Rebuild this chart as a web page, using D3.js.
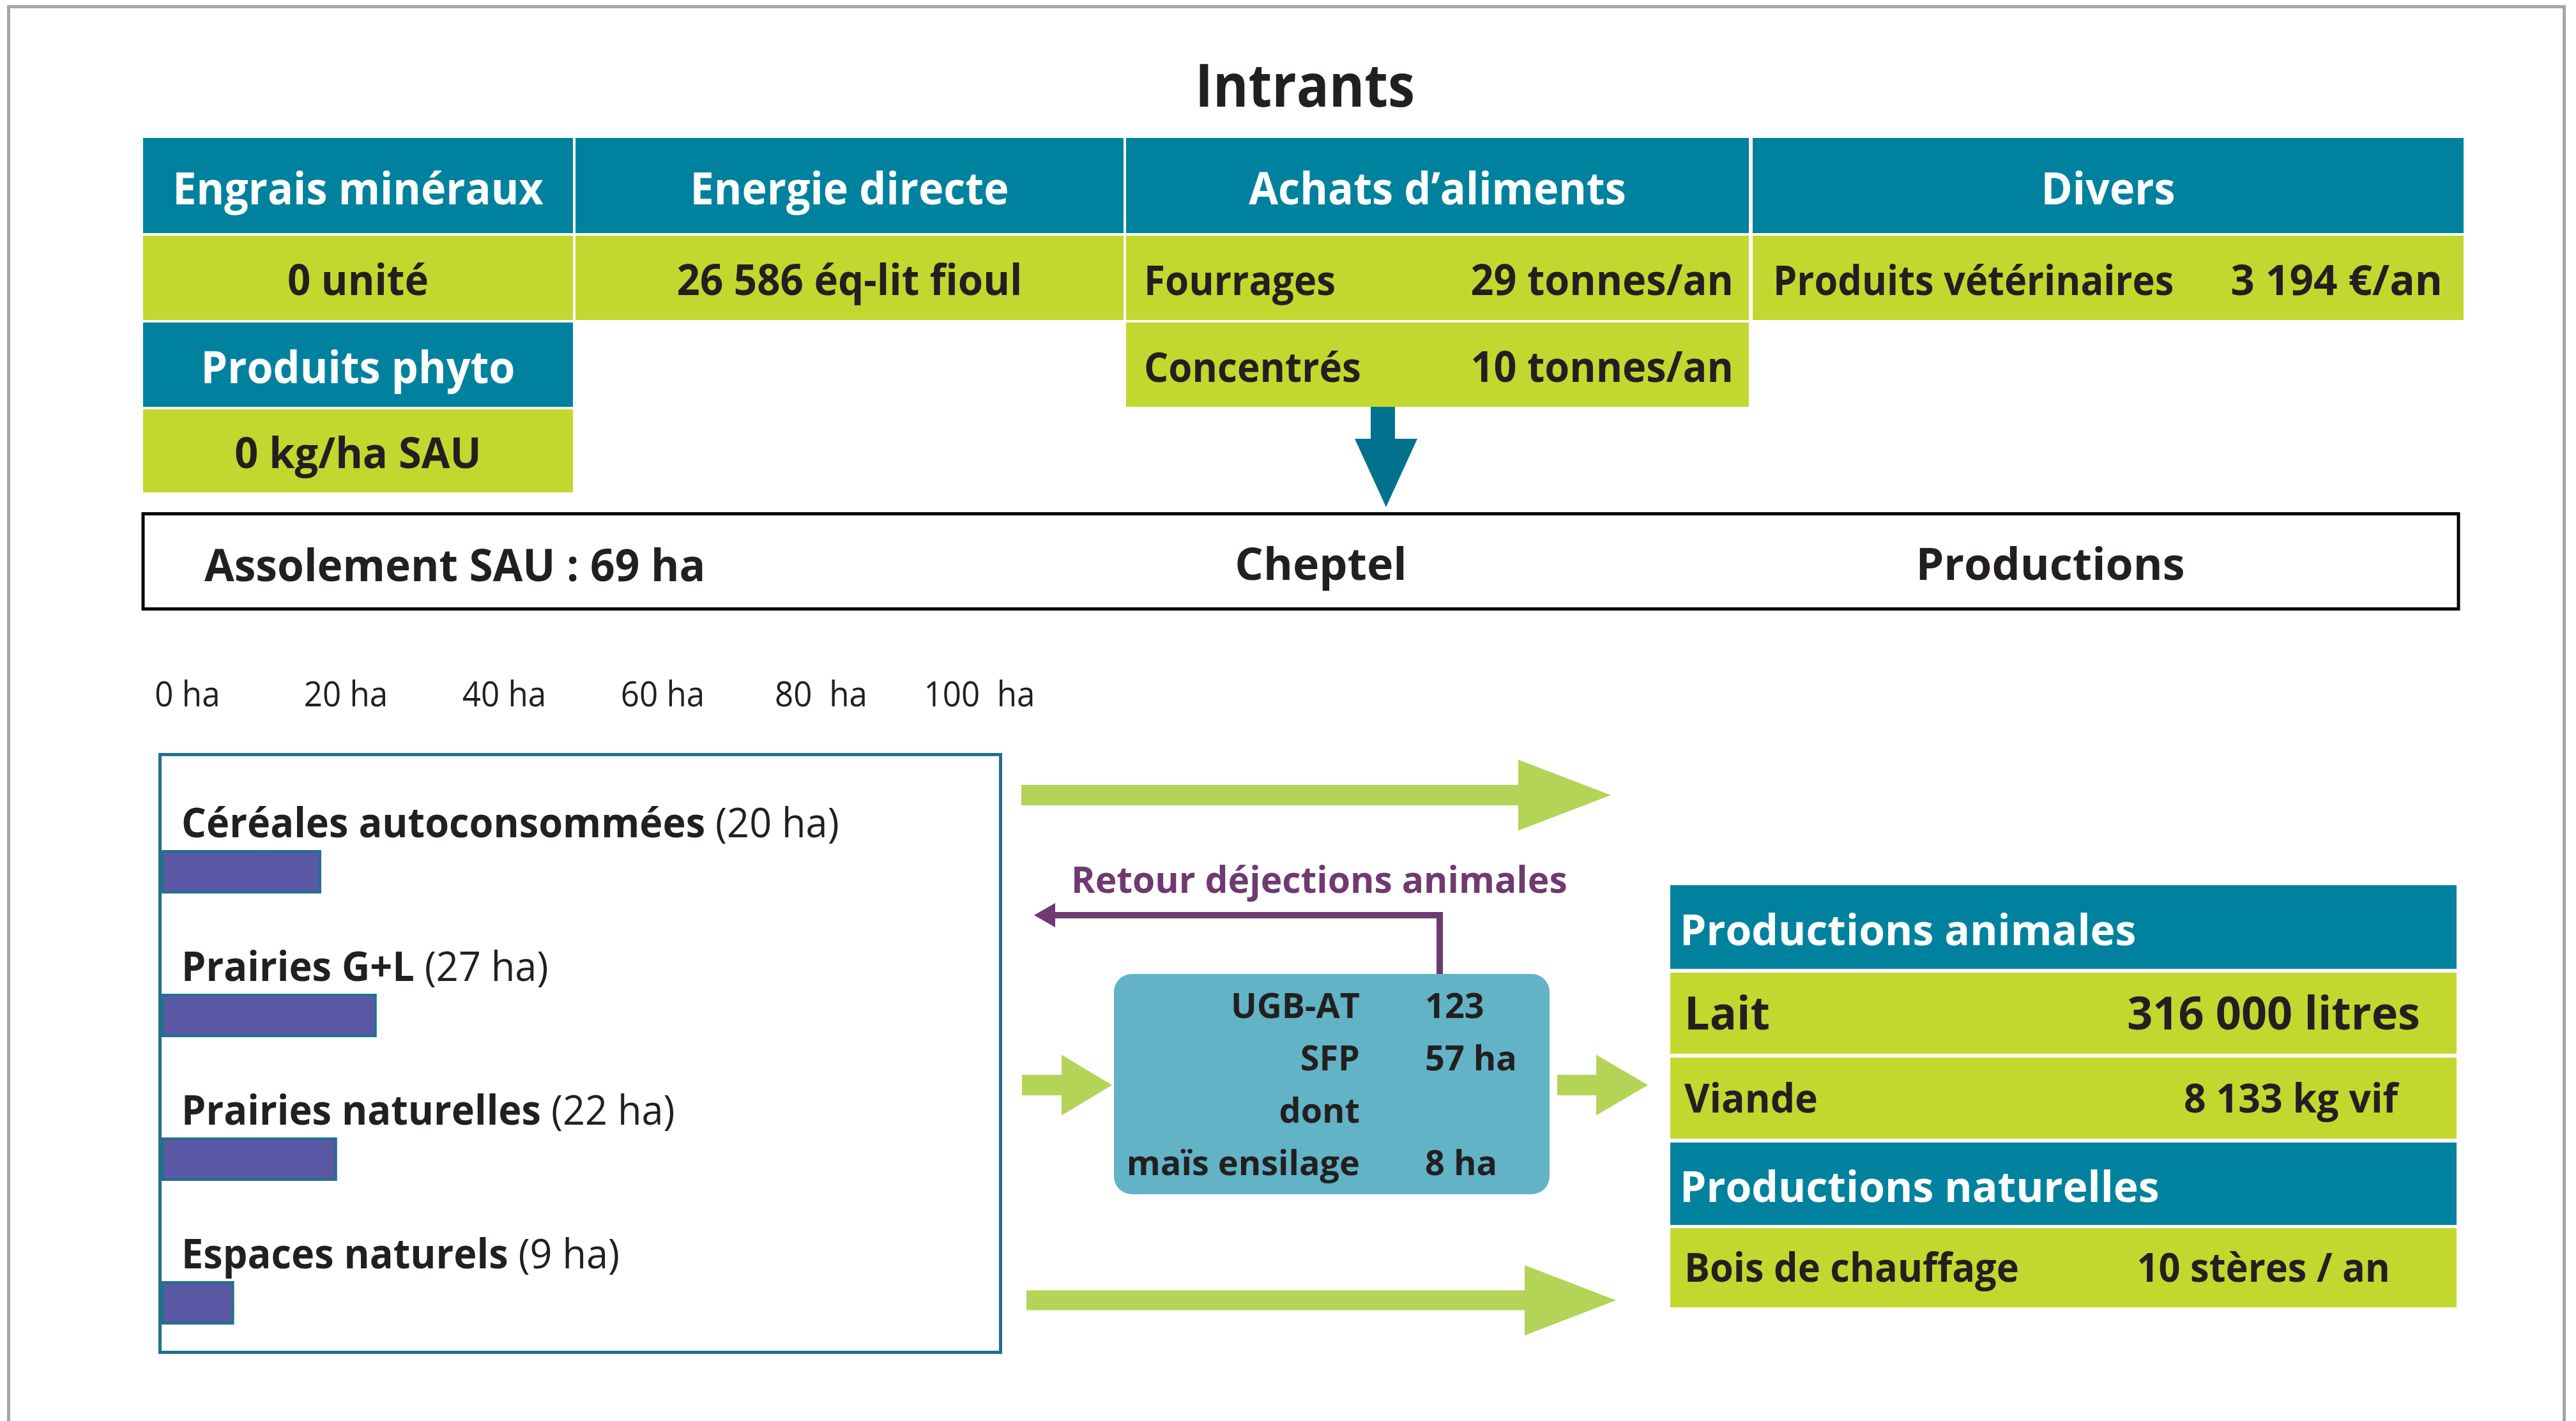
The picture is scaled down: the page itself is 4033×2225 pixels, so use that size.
<!DOCTYPE html>
<html>
<head>
<meta charset="utf-8">
<script src="https://cdn.jsdelivr.net/npm/d3@7"></script>
<style>
  html, body { margin: 0; padding: 0; background: #fff; }
  svg { display: block; }
  text { font-family: "Open Sans", "Noto Sans", sans-serif; }
</style>
</head>
<body>
<div id="chart"></div>
<script>
// --- data -------------------------------------------------------------
const inputCategories = ["Engrais minéraux", "Energie directe", "Achats d’aliments", "Divers"]
const inputAmounts = ["0 unité", "26 586 éq-lit fioul"]
const feedItems = ["Fourrages", "Concentrés"]
const feedAmounts = ["29 tonnes/an", "10 tonnes/an"]
const miscItems = ["Produits vétérinaires"]
const miscAmounts = ["3 194 €/an"]
const phytoLabel = "Produits phyto"
const phytoAmount = "0 kg/ha SAU"

const sauTotal = 69
const cropNames = ["Céréales autoconsommées", "Prairies G+L", "Prairies naturelles", "Espaces naturels"]
const cropAreas = [20, 27, 22, 9]
const axisTicks = [0, 20, 40, 60, 80, 100]
const tickLabels = ["0 ha", "20 ha", "40 ha", "60 ha", "80  ha", "100  ha"]

const herdLabels = ["UGB-AT", "SFP", "dont", "maïs ensilage"]
const herdValues = ["123", "57 ha", "", "8 ha"]

const outputHeads = ["Productions animales", "Productions naturelles"]
const animalProducts = ["Lait", "Viande"]
const animalAmounts = ["316 000 litres", "8 133 kg vif"]
const naturalProducts = ["Bois de chauffage"]
const naturalAmounts = ["10 stères / an"]

// --- look -------------------------------------------------------------
const width = 4033
const height = 2225
const teal = "#00829e"
const green = "#c2d82e"
const arrowGreen = "#b3d456"
const navy = "#22708c"
const barFill = "#5a58a5"
const herdFill = "#62b3c6"
const purple = "#6e3a70"
const dark = "#231f20"
const SX = 0.95   // light horizontal squeeze, the original uses a condensed face

const svg = d3.select("#chart").append("svg")
    .attr("width", width)
    .attr("height", height)
    .attr("viewBox", `0 0 ${width} ${height}`)

function label(g, x, y, str, o = {}) {
    return g.append("text")
        .attr("transform", `translate(${x},${y}) scale(${o.sx ?? SX},1)`)
        .attr("text-anchor", o.anchor || "start")
        .attr("font-size", o.size || 66)
        .attr("font-weight", o.weight || 700)
        .attr("fill", o.fill || dark)
        .text(str)
}

function rightArrow(x0, tip, yc, shaft, head, headLen) {
    const p = d3.path()
    const xh = tip - headLen
    p.moveTo(x0, yc - shaft / 2)
    p.lineTo(xh, yc - shaft / 2)
    p.lineTo(xh, yc - head / 2)
    p.lineTo(tip, yc)
    p.lineTo(xh, yc + head / 2)
    p.lineTo(xh, yc + shaft / 2)
    p.lineTo(x0, yc + shaft / 2)
    p.closePath()
    return p.toString()
}

// frame
svg.append("rect")
    .attr("x", 13.5).attr("y", 10.5)
    .attr("width", 4001).attr("height", 2400)
    .attr("fill", "none").attr("stroke", "#a6a6aa").attr("stroke-width", 5)

// --- intrants ---------------------------------------------------------
const intr = svg.append("g")
label(intr, 2043, 167, "Intrants", { anchor: "middle", size: 94, sx: 0.9 })

const colX = [[224, 897], [901, 1759], [1763, 2738], [2744, 3857]]
const rowY = [[216, 365], [369, 501], [505, 637], [641, 771]]

function cell(col, row, fill) {
    const [x0, x1] = colX[col], [y0, y1] = rowY[row]
    intr.append("rect").attr("x", x0).attr("y", y0)
        .attr("width", x1 - x0).attr("height", y1 - y0).attr("fill", fill)
    return { x0, x1, cx: (x0 + x1) / 2, cy: (y0 + y1) / 2 }
}

inputCategories.forEach((name, i) => {
    const c = cell(i, 0, teal)
    label(intr, c.cx, c.cy + 29, name, { anchor: "middle", size: 70, fill: "#fff" })
})
inputAmounts.forEach((v, i) => {
    const c = cell(i, 1, green)
    label(intr, c.cx, c.cy + 27, v, { anchor: "middle", size: 67 })
})
feedItems.forEach((name, i) => {
    const c = cell(2, i + 1, green)
    label(intr, c.x0 + 28, c.cy + 27, name, { size: 64, sx: 0.94 })
    label(intr, c.x1 - 24, c.cy + 27, feedAmounts[i], { anchor: "end", size: 67, sx: 0.94 })
})
miscItems.forEach((name, i) => {
    const c = cell(3, i + 1, green)
    label(intr, c.x0 + 32, c.cy + 27, name, { size: 64, sx: 0.93 })
    label(intr, c.x1 - 33, c.cy + 27, miscAmounts[i], { anchor: "end", size: 67, sx: 0.98 })
})
{
    const h = cell(0, 2, teal)
    label(intr, h.cx, h.cy + 29, phytoLabel, { anchor: "middle", size: 70, fill: "#fff" })
    const v = cell(0, 3, green)
    label(intr, v.cx, v.cy + 27, phytoAmount, { anchor: "middle", size: 67, sx: 0.97 })
}

// purchased feed going down into the herd
intr.append("rect").attr("x", 2146).attr("y", 637).attr("width", 38).attr("height", 52).attr("fill", "#00728e")
intr.append("path").attr("d", "M2121,687L2219,687L2170,794Z").attr("fill", "#00728e")

// --- band ------------------------------------------------------------
const band = svg.append("g")
band.append("rect").attr("x", 224).attr("y", 804.5).attr("width", 3625).attr("height", 149)
    .attr("fill", "none").attr("stroke", "#000").attr("stroke-width", 5)
label(band, 320, 910, `Assolement SAU : ${sauTotal} ha`, { size: 70, sx: 0.967 })
label(band, 2068, 908, "Cheptel", { anchor: "middle", size: 70, sx: 1 })
label(band, 3210, 908, "Productions", { anchor: "middle", size: 70, sx: 1 })

// --- crop rotation bars --------------------------------------------------
const x = d3.scaleLinear().domain([0, 100]).range([253, 1493])
const y = d3.scalePoint().domain(cropNames).range([1333, 2008])
const barH = 64

const crops = svg.append("g")
crops.append("rect").attr("x", 250.5).attr("y", 1181.5).attr("width", 1316).attr("height", 936)
    .attr("fill", "none").attr("stroke", navy).attr("stroke-width", 5)

const axis = crops.append("g")
    .attr("transform", "translate(40,1106)")
    .call(d3.axisTop(x).tickValues(axisTicks).tickSize(0).tickPadding(0).tickFormat((d, i) => tickLabels[i]))
axis.select(".domain").remove()
axis.attr("font-family", null)
axis.selectAll("text")
    .attr("font-size", 55)
    .attr("fill", dark)
    .attr("dy", 0)
    .style("white-space", "pre")
    .attr("transform", "scale(0.93,1)")

crops.selectAll("rect.bar")
    .data(cropNames)
    .join("rect")
    .attr("class", "bar")
    .attr("x", x(0) + 2)
    .attr("y", d => y(d))
    .attr("width", (d, i) => x(cropAreas[i]) - x(0) - 2)
    .attr("height", barH)
    .attr("fill", barFill)
    .attr("stroke", navy)
    .attr("stroke-width", 4)

const cropText = crops.selectAll("text.crop")
    .data(cropNames)
    .join("text")
    .attr("class", "crop")
    .attr("transform", d => `translate(284,${y(d) - 22}) scale(0.957,1)`)
    .attr("font-size", 64)
    .attr("fill", dark)
cropText.append("tspan").attr("font-weight", 700).text(d => d)
cropText.append("tspan").attr("font-weight", 400).text((d, i) => ` (${cropAreas[i]} ha)`)

// --- flows -------------------------------------------------------------
const flows = svg.append("g").attr("fill", arrowGreen)
flows.append("path").attr("d", rightArrow(1599, 2522, 1245, 32, 111, 145))
flows.append("path").attr("d", rightArrow(1607, 2530, 2036, 31, 110, 143))
flows.append("path").attr("d", rightArrow(1600, 1741, 1699, 32, 95, 79))
flows.append("path").attr("d", rightArrow(2438, 2580, 1699, 32, 95, 81))

// manure going back to the land
const back = svg.append("g")
back.append("path").attr("d", "M2254,1527V1433H1648")
    .attr("fill", "none").attr("stroke", purple).attr("stroke-width", 10)
back.append("path").attr("d", "M1619,1433L1652,1414L1652,1452Z").attr("fill", purple)
label(back, 1677, 1398, "Retour déjections animales", { size: 57, fill: purple, sx: 1 })

// --- herd --------------------------------------------------------------
const herd = svg.append("g")
herd.append("rect").attr("x", 1744).attr("y", 1525).attr("width", 682).attr("height", 345)
    .attr("rx", 28).attr("fill", herdFill)
const herdY = d3.scalePoint().domain(herdLabels).range([1594, 1840])
herdLabels.forEach((name, i) => {
    label(herd, 2129, herdY(name), name, { anchor: "end", size: 54, sx: 1 })
    label(herd, 2231, herdY(name), herdValues[i], { size: 54, sx: 1 })
})

// --- productions -------------------------------------------------------------
const prod = svg.append("g")
const px0 = 2615, px1 = 3846
const prodRows = [
    { y0: 1386, y1: 1517, fill: teal, head: outputHeads[0] },
    { y0: 1523, y1: 1650, fill: green, name: animalProducts[0], value: animalAmounts[0], size: 72, right: 3789, sx: 0.975 },
    { y0: 1656, y1: 1783, fill: green, name: animalProducts[1], value: animalAmounts[1], size: 62, right: 3754, sx: 0.98 },
    { y0: 1789, y1: 1918, fill: teal, head: outputHeads[1] },
    { y0: 1923, y1: 2047, fill: green, name: naturalProducts[0], value: naturalAmounts[0], size: 62, right: 3742, sx: 0.96 }
]
prodRows.forEach(r => {
    prod.append("rect").attr("x", px0).attr("y", r.y0).attr("width", px1 - px0).attr("height", r.y1 - r.y0).attr("fill", r.fill)
    const cy = (r.y0 + r.y1) / 2
    if (r.head) {
        label(prod, 2630, cy + 28, r.head, { size: 66, fill: "#fff", sx: 1 })
    } else {
        label(prod, 2637, cy + r.size * 0.36, r.name, { size: r.size, sx: r.sx })
        label(prod, r.right, cy + r.size * 0.36, r.value, { anchor: "end", size: r.size, sx: r.sx })
    }
})
</script>
</body>
</html>
